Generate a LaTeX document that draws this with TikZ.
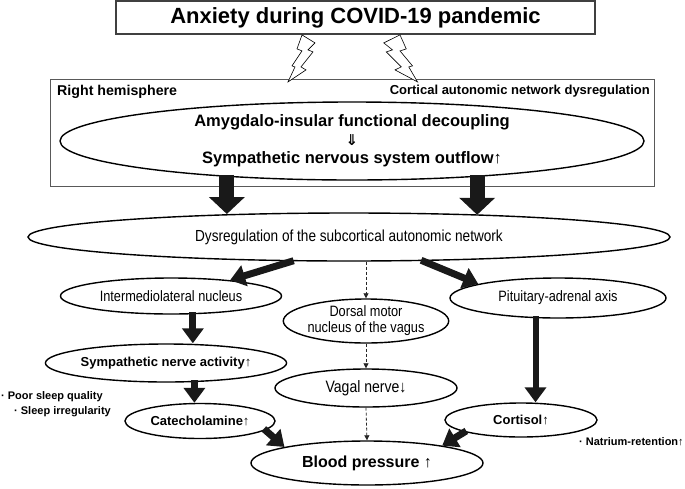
\documentclass[tikz,border=0pt]{standalone}
\usepackage{fontspec}
\setmainfont{Liberation Sans}
\newfontfamily\narrowfont[FakeStretch=0.85]{Liberation Sans}
\newfontfamily\symfont{DejaVu Sans}
\usetikzlibrary{arrows.meta,positioning,shapes.geometric,calc}

\newcommand{\uparr}{{\mdseries ↑}}
\newcommand{\dnarr}{{\mdseries ↓}}

\tikzset{
  oval/.style={draw=black, ellipse, line width=1.4pt, fill=white, inner sep=0pt, align=center},
  boldtxt/.style={font=\fontsize{13}{15}\selectfont\bfseries},
  thintxt/.style={font=\narrowfont\fontsize{15}{16}\selectfont},
  notetxt/.style={inner sep=0pt, font=\fontsize{11}{13}\selectfont\bfseries},
  fatarrow/.style={draw=black!90, line width=15pt, shorten <=-2pt, -{Triangle[length=17pt,width=35pt]}},
  midarrow/.style={draw=black!90, line width=7pt, shorten <=-2pt, -{Triangle[length=15pt,width=21pt]}},
  dasharrow/.style={draw=black!85, line width=0.8pt, dash pattern=on 3pt off 2pt, -{Triangle[length=5pt,width=5pt]}},
  bolt/.pic={
    \draw[line width=0.6pt, fill=white] (0,0) -- (13,8) -- (6,15) -- (11,17) -- (-1,32) -- (4,35)
      -- (-14,47) -- (-7,32) -- (-10,31) -- (0,16) -- (-5,14) -- cycle;
  }
}

\begin{document}
\begin{tikzpicture}[x=1pt, y=-1pt]
  \useasboundingbox (0,0) rectangle (685,488);
  % Top box and the cortical level
  \node[draw=black!75, line width=1.8pt, minimum width=479pt, minimum height=33pt, inner sep=0pt, font=\fontsize{22}{26}\selectfont\bfseries] (anxiety) at (355.5,17.5) {Anxiety during COVID-19 pandemic};
  \node[draw=black!65, line width=0.9pt, minimum width=604pt, minimum height=107pt, inner sep=0pt] (hemi) at (352,132.5) {};
  \pic at ($(anxiety.south)+(-53.5,0)$) {bolt};
  \pic[xscale=-1.25] at ($(anxiety.south)+(44.5,0)$) {bolt};
  \node[anchor=west, inner sep=0pt, font=\fontsize{14.2}{16}\selectfont\bfseries] (righthemi) at (57,92) {Right hemisphere};
  \node[anchor=east, inner sep=0pt, font=\fontsize{13}{15}\selectfont\bfseries] (cortical) at (650,91) {Cortical autonomic network dysregulation};
  \node[oval, minimum width=584pt, minimum height=78pt, font=\fontsize{16.5}{18.5}\selectfont\bfseries] (amygdala) at (352,141) {Amygdalo-insular functional decoupling\\{\symfont\fontsize{15}{18.5}\selectfont ⇓}\\Sympathetic nervous system outflow\uparr};
  % Subcortical level
  \node[oval, minimum width=642pt, minimum height=48pt, font=\narrowfont\fontsize{16}{18}\selectfont] (subcortical) at (349,237) {Dysregulation of the subcortical autonomic network};
  \node[oval, thintxt, minimum width=221pt, minimum height=36pt] (imlnucleus) at (171,296) {Intermediolateral nucleus};
  \node[oval, thintxt, minimum width=216pt, minimum height=40pt] (pituitary) at (558,298) {Pituitary-adrenal axis};
  \node[oval, thintxt, minimum width=158pt, minimum height=44pt] (dorsal) at (366,321) {Dorsal motor\\nucleus of the vagus};
  \node[oval, boldtxt, minimum width=216pt, minimum height=38pt] (sympathetic) at (166,363) {Sympathetic nerve activity\uparr};
  \node[oval, thintxt, font=\narrowfont\fontsize{16.5}{18}\selectfont, minimum width=182pt, minimum height=38pt] (vagal) at (366,388) {Vagal nerve\dnarr};
  \node[oval, boldtxt, minimum width=150pt, minimum height=35pt] (catecholamine) at (200,421) {Catecholamine\uparr};
  \node[oval, boldtxt, minimum width=152pt, minimum height=34pt] (cortisol) at (521,420) {Cortisol\uparr};
  \node[oval, minimum width=232pt, minimum height=44pt, font=\fontsize{16}{18}\selectfont\bfseries] (pressure) at (367,463) {Blood pressure \uparr};
  % Side notes
  \node[notetxt, anchor=west] (poorsleep) at (1,397) {· Poor sleep quality};
  \node[notetxt, anchor=west] (irregular) at (14,412) {· Sleep irregularity};
  \node[notetxt, anchor=west] (natrium) at (579,442) {· Natrium-retention\uparr};
  % Arrows
  \draw[fatarrow] (amygdala.196.5) -- (amygdala.196.5 |- subcortical.169.2);
  \draw[fatarrow] (amygdala.344.8) -- (amygdala.344.8 |- subcortical.9.4);
  \draw[midarrow] (subcortical.203.7) -- (imlnucleus.15.1);
  \draw[midarrow] (subcortical.342.5) -- (pituitary.170);
  \draw[midarrow] (imlnucleus.320) -- (imlnucleus.320 |- sympathetic.north);
  \draw[midarrow] (sympathetic.326) -- (sympathetic.326 |- catecholamine.north);
  \draw[midarrow, line width=6pt] (pituitary.222) -- (pituitary.222 |- cortisol.north);
  \draw[midarrow] (catecholamine.352) -- (pressure.169);
  \draw[midarrow] (cortisol.192) -- (pressure.13);
  \draw[dasharrow] (dorsal.north |- subcortical.south) -- (dorsal.north);
  \draw[dasharrow] (dorsal.south) -- (vagal.north);
  \draw[dasharrow] (vagal.south) -- (pressure.north);
\end{tikzpicture}
\end{document}
